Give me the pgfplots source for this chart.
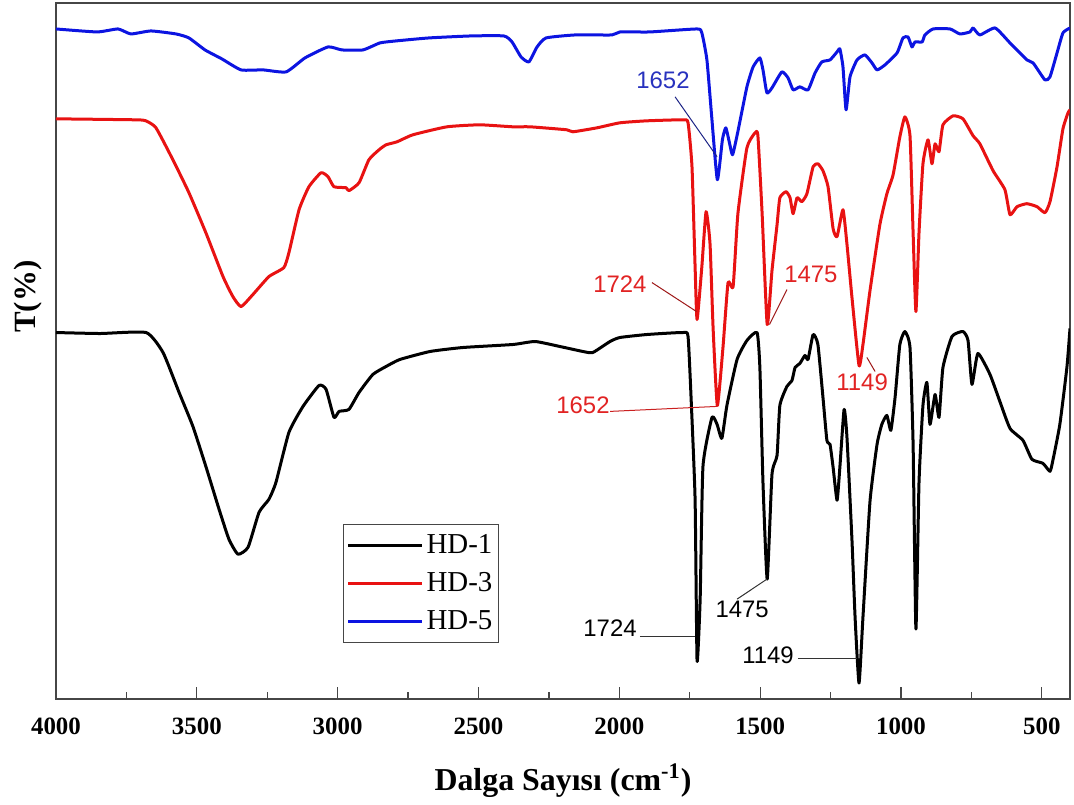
\documentclass[border=0pt]{standalone}
\usepackage{fontspec}
\setmainfont{Liberation Serif}
\newfontfamily\arial{Liberation Sans}
\usepackage{pgfplots}
\pgfplotsset{compat=1.18}

\definecolor{hdred}{RGB}{232,18,18}
\definecolor{hdblue}{RGB}{12,20,225}
\definecolor{lblblue}{RGB}{40,50,190}
\definecolor{lblred}{RGB}{225,35,35}
\definecolor{axisgray}{RGB}{70,70,70}

% FTIR spectra (wavenumber, transmittance offset in arbitrary units)
\pgfplotstableread{
wn y
4000 367
3844 366
3680 367
3620 347
3563 307
3514 273
3468 233
3421 190
3386 160
3354 145
3318 152
3279 187
3244 200
3219 217
3173 267
3123 293
3066 314
3041 310
3013 282
2995 288
2960 290
2924 307
2875 325
2828 333
2779 340
2672 348
2555 352
2378 355
2299 358
2211 353
2129 348
2094 347
2033 358
1998 362
1902 365
1774 367
1756 363
1745 300
1731 200
1724 38
1713 100
1703 233
1671 282
1653 275
1636 261
1618 294
1582 340
1547 359
1511 367
1501 332
1490 217
1475 120
1458 225
1440 244
1430 294
1405 313
1387 319
1376 332
1359 336
1341 344
1330 340
1312 365
1295 355
1277 302
1263 259
1252 255
1241 232
1227 199
1217 232
1202 290
1192 263
1174 159
1163 82
1149 16
1135 82
1110 198
1085 255
1068 275
1050 284
1036 269
1021 302
1004 355
986 368
968 352
957 255
947 70
936 217
922 294
908 317
897 275
879 305
865 282
851 332
819 363
780 368
762 359
748 315
727 346
684 325
649 298
613 271
567 259
535 240
496 236
471 228
460 240
436 275
411 332
400 371
}\hdone

\pgfplotstableread{
wn y
4000 581
3716 580
3681 579
3645 572
3585 540
3528 507
3468 467
3407 423
3372 403
3343 393
3301 405
3244 423
3191 432
3173 447
3137 490
3102 513
3059 527
3034 523
3013 513
2970 512
2960 509
2924 517
2889 540
2853 550
2828 555
2789 558
2733 565
2612 573
2495 575
2378 573
2317 573
2186 570
2165 568
2079 572
1998 577
1902 579
1774 580
1756 577
1742 533
1731 433
1724 380
1707 433
1692 488
1678 456
1667 371
1652 294
1632 352
1614 417
1596 413
1579 486
1547 552
1518 567
1508 564
1493 486
1475 375
1458 429
1440 475
1430 502
1408 508
1394 502
1383 486
1369 502
1352 498
1334 506
1312 533
1295 536
1277 529
1259 513
1241 471
1227 463
1206 490
1192 456
1174 402
1149 334
1135 355
1110 409
1075 475
1050 506
1028 525
1004 563
986 583
968 564
957 467
947 388
936 467
922 536
904 560
890 536
879 556
865 548
851 575
815 584
780 581
744 564
720 556
673 529
631 510
613 485
588 493
553 496
517 493
489 487
471 498
446 533
425 571
407 587
400 590
}\hdthree

\pgfplotstableread{
wn y
4000 671
3854 668
3780 671
3734 666
3663 669
3574 666
3528 662
3471 650
3411 641
3343 630
3265 630
3183 628
3116 642
3034 653
2985 650
2910 650
2850 657
2793 659
2676 662
2527 664
2410 664
2381 658
2349 643
2321 638
2292 653
2260 662
2157 665
2026 665
1998 668
1891 668
1724 671
1707 667
1689 640
1672 583
1652 520
1634 560
1622 572
1609 557
1598 545
1580 567
1547 613
1525 633
1501 642
1490 630
1476 607
1458 612
1423 628
1401 622
1383 610
1359 613
1330 610
1305 627
1281 638
1252 640
1227 648
1217 651
1206 633
1195 590
1181 623
1156 640
1128 645
1103 637
1085 630
1057 635
1014 647
993 662
975 663
961 653
950 658
925 658
915 665
886 671
826 671
791 666
755 668
744 672
720 665
666 672
613 657
553 640
531 637
489 620
471 623
446 647
425 667
400 672
}\hdfive

\begin{document}
\begin{tikzpicture}
\useasboundingbox (-28bp,-53bp) rectangle (509bp,349.5bp);
\begin{axis}[
  scale only axis, width=507bp, height=348bp,
  at={(0,0)}, anchor=south west,
  x dir=reverse, xmin=400, xmax=4000, ymin=0, ymax=697,
  xtick={500,1000,...,4000}, minor x tick num=1,
  ytick=\empty, xtick pos=bottom,
  major tick length=6bp, minor tick length=3.5bp,
  every tick/.style={axisgray, line width=0.6bp},
  axis line style={axisgray, line width=0.8bp},
  tick label style={font=\bfseries\fontsize{12.5}{14}\selectfont},
  /pgf/number format/assume math mode=true,
  /pgf/number format/1000 sep={},
  xticklabel style={yshift=-6bp},
  xlabel={Dalga Sayısı (cm\textsuperscript{-1})},
  xlabel style={at={(axis description cs:0.5,0)}, anchor=north, inner sep=0pt,
    yshift=-32bp, font=\bfseries\fontsize{16}{19}\selectfont},
  ylabel={T(\%)},
  ylabel style={at={(axis description cs:-0.0276,0.578)}, anchor=center, inner sep=0pt,
    font=\bfseries\fontsize{15.5}{18}\selectfont},
  legend style={at={(0.283,0.080)}, anchor=south west, draw=axisgray, line width=0.6bp,
    font=\fontsize{14.5}{17}\selectfont, inner xsep=1.5bp, inner ysep=3.5bp,
    row sep=5bp, nodes={inner sep=1.5bp}},
  legend cell align=left,
  legend image code/.code={\draw[#1] (0bp,0bp) -- (37bp,0bp);},
  spectrum/.style={line width=1.5bp, line join=round, smooth, tension=0.3},
]
\addplot[black, spectrum] table[x=wn, y=y] {\hdone};
\addlegendentry{HD-1}
\addplot[hdred, spectrum] table[x=wn, y=y] {\hdthree};
\addlegendentry{HD-3}
\addplot[hdblue, spectrum] table[x=wn, y=y] {\hdfive};
\addlegendentry{HD-5}

% peak labels
\begin{scope}[every node/.style={font=\arial\fontsize{12}{14}\selectfont, inner sep=0pt}]
\node[text=lblblue] at (axis cs:1845,620) {1652};
\draw[lblblue!70!black, line width=0.5bp] (axis cs:1802,603) -- (axis cs:1653,543);

\node[text=lblred] at (axis cs:1998,415) {1724};
\draw[lblred!70!black, line width=0.5bp] (axis cs:1884,417) -- (axis cs:1726,388);
\node[text=lblred] at (axis cs:1320,425) {1475};
\draw[lblred!70!black, line width=0.5bp] (axis cs:1405,410) -- (axis cs:1467,375);
\node[text=lblred] at (axis cs:1138,317) {1149};
\draw[lblred!70!black, line width=0.5bp] (axis cs:1121,342) -- (axis cs:1092,328);
\node[text=lblred] at (axis cs:2129,294) {1652};
\draw[lblred!90!black, line width=0.5bp] (axis cs:2033,288) -- (axis cs:1653,293);

\node[text=black] at (axis cs:2033,71) {1724};
\draw[black!80, line width=0.5bp] (axis cs:1927,63) -- (axis cs:1731,63);
\node[text=black] at (axis cs:1564,90) {1475};
\draw[black!80, line width=0.5bp] (axis cs:1582,100) -- (axis cs:1476,120);
\node[text=black] at (axis cs:1472,44) {1149};
\draw[black!80, line width=0.5bp] (axis cs:1366,41) -- (axis cs:1156,41);
\end{scope}
\end{axis}
\end{tikzpicture}
\end{document}
